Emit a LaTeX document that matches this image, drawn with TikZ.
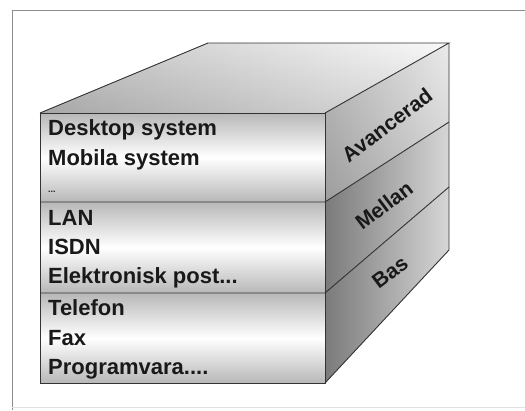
\documentclass[tikz,border=0pt]{standalone}
\usepackage{fontspec}
\setmainfont{Liberation Sans}
\begin{document}
\begin{tikzpicture}[x=1pt,y=-1pt,
  edge/.style={draw=black!80,line width=0.9pt},
  rowtext/.style={anchor=base west,inner sep=0pt,font=\fontsize{22}{26}\selectfont\bfseries,text=black!90},
  sidetext/.style={inner sep=0pt,rotate=37,font=\fontsize{21}{25}\selectfont\bfseries,text=black!90}]
\useasboundingbox (0,0) rectangle (525,410);
\fill[white] (0,0) rectangle (525,410);
% outer frame
\draw[black!45,line width=0.8pt] (525,10) -- (12,10) -- (12,410);
\draw[black!12,line width=0.6pt] (12,407) -- (525,407);

% cube corners: front face, back edge
\coordinate (ftl) at (40,113);
\coordinate (ftr) at (325,113);
\coordinate (fm1) at (325,202);
\coordinate (fm2) at (325,293);
\coordinate (fbr) at (325,383);
\coordinate (fbl) at (40,383);
\coordinate (fl1) at (40,202);
\coordinate (fl2) at (40,293);
\coordinate (btl) at (208,43);
\coordinate (btr) at (449,43);
\coordinate (bm1) at (449,122);
\coordinate (bm2) at (449,187);
\coordinate (bbr) at (449,250);

% top face
\begin{scope}
  \clip (ftl) -- (btl) -- (btr) -- (ftr) -- cycle;
  \shade[left color=black!42,right color=black!4] (40,43) rectangle (449,113);
  \shade[top color=white,bottom color=black!25,opacity=0.45] (40,43) rectangle (449,113);
\end{scope}

% right face, three bands
\begin{scope}
  \clip (ftr) -- (btr) -- (bbr) -- (fbr) -- cycle;
  \shade[left color=black!52,right color=black!16] (325,43) rectangle (449,383);
\end{scope}
\begin{scope}
  \clip (ftr) -- (btr) -- (bm1) -- (fm1) -- cycle;
  \shade[top color=white,bottom color=black!25,opacity=0.5] (325,43) rectangle (449,202);
\end{scope}

% front face, three layers
\foreach \ya/\yb in {113/202,202/293,293/383}{
  \shade[top color=black!28,bottom color=black!28,middle color=white] (40,\ya) rectangle (325,\yb);
}

% outlines
\draw[edge] (ftl) -- (btl) -- (btr) -- (ftr);
\draw[edge] (btr) -- (bbr) -- (fbr);
\draw[edge] (ftl) rectangle (fbr);
\draw[edge] (fl1) -- (fm1) -- (bm1);
\draw[edge] (fl2) -- (fm2) -- (bm2);

% row texts
\node[rowtext] (t1) at (48,135) {Desktop system};
\node[rowtext] (t2) at (48,165) {Mobila system};
\node[rowtext,font=\fontsize{9}{10}\selectfont\bfseries] (t3) at (48,192) {...};
\node[rowtext] (t4) at (48,225) {LAN};
\node[rowtext] (t5) at (48,254) {ISDN};
\node[rowtext] (t6) at (48,283) {Elektronisk post...};
\node[rowtext] (t7) at (48,315) {Telefon};
\node[rowtext] (t8) at (48,345) {Fax};
\node[rowtext] (t9) at (48,374) {Programvara....};

% side labels
\node[sidetext] (s1) at (387,125) {Avancerad};
\node[sidetext] (s2) at (384,205) {Mellan};
\node[sidetext] (s3) at (390,272) {Bas};
\end{tikzpicture}
\end{document}
